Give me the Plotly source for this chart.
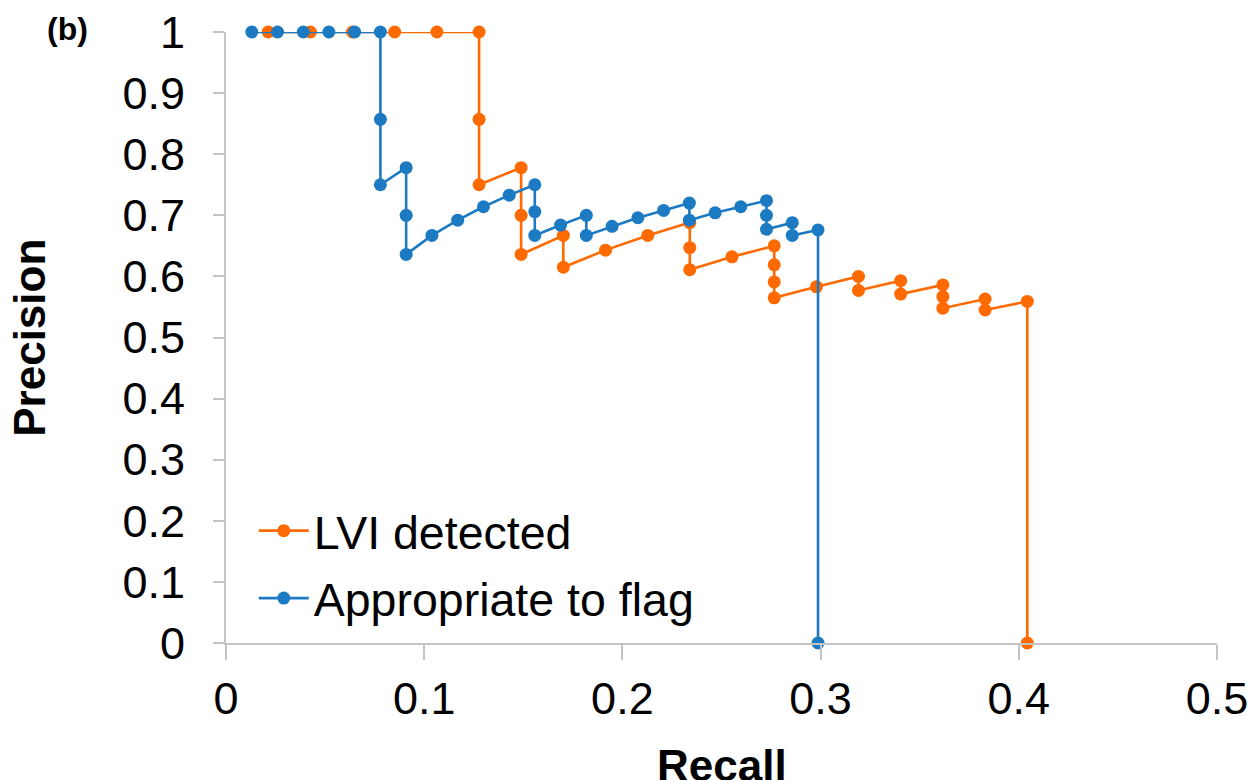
import plotly.graph_objects as go

# ---- data ----
lvi_recall = [0.0213, 0.0426, 0.0638, 0.0851, 0.1064, 0.1277, 0.1277, 0.1277,
              0.1489, 0.1489, 0.1489, 0.1702, 0.1702, 0.1915, 0.2128,
              0.2340, 0.2340, 0.2340, 0.2553, 0.2766, 0.2766, 0.2766, 0.2766,
              0.2979, 0.3191, 0.3191, 0.3404, 0.3404, 0.3617, 0.3617, 0.3617,
              0.3830, 0.3830, 0.4043, 0.4043]
lvi_precision = [1, 1, 1, 1, 1, 1, 0.857, 0.75,
                 0.778, 0.7, 0.636, 0.667, 0.615, 0.643, 0.667,
                 0.688, 0.647, 0.611, 0.632, 0.65, 0.619, 0.591, 0.565,
                 0.583, 0.6, 0.577, 0.593, 0.571, 0.586, 0.567, 0.548,
                 0.563, 0.545, 0.559, 0]

flag_recall = [0.013, 0.026, 0.039, 0.0519, 0.0649, 0.0779, 0.0779, 0.0779,
               0.0909, 0.0909, 0.0909, 0.1039, 0.1169, 0.1299, 0.1429,
               0.1558, 0.1558, 0.1558, 0.1688, 0.1818, 0.1818, 0.1948,
               0.2078, 0.2208, 0.2338, 0.2338, 0.2468, 0.2597,
               0.2727, 0.2727, 0.2727, 0.2857, 0.2857, 0.2987, 0.2987]
flag_precision = [1, 1, 1, 1, 1, 1, 0.857, 0.75,
                  0.778, 0.7, 0.636, 0.667, 0.692, 0.714, 0.733,
                  0.75, 0.706, 0.667, 0.684, 0.7, 0.667, 0.682,
                  0.696, 0.708, 0.72, 0.692, 0.704, 0.714,
                  0.724, 0.7, 0.677, 0.688, 0.667, 0.676, 0]

series_names = ["LVI detected", "Appropriate to flag"]
x_tickvals = [0, 0.1, 0.2, 0.3, 0.4, 0.5]
x_ticktext = ["0", "0.1", "0.2", "0.3", "0.4", "0.5"]
y_tickvals = [0, 0.1, 0.2, 0.3, 0.4, 0.5, 0.6, 0.7, 0.8, 0.9, 1]
y_ticktext = ["0", "0.1", "0.2", "0.3", "0.4", "0.5", "0.6", "0.7", "0.8", "0.9", "1"]

ORANGE = "#FF6A00"
BLUE = "#1C7AC3"
AXIS = "#C4C4C4"
FONT = "Liberation Sans, Arial, Helvetica, sans-serif"

fig = go.Figure()
fig.add_trace(go.Scatter(
    x=lvi_recall, y=lvi_precision, name=series_names[0],
    legendgroup="g1",
    mode="lines+markers", cliponaxis=False,
    line=dict(color=ORANGE, width=2.6),
    marker=dict(color=ORANGE, size=13),
))
fig.add_trace(go.Scatter(
    x=flag_recall, y=flag_precision, name=series_names[1],
    legendgroup="g2",
    mode="lines+markers", cliponaxis=False,
    line=dict(color=BLUE, width=2.6),
    marker=dict(color=BLUE, size=13),
))

fig.update_layout(
    width=1250, height=780,
    margin=dict(l=226, r=33, t=32, b=137, autoexpand=False),
    paper_bgcolor="white", plot_bgcolor="white",
    font=dict(family=FONT, color="black"),
    showlegend=True,
    legend=dict(
        x=0.028, y=0.244, xanchor="left", yanchor="top",
        bgcolor="rgba(0,0,0,0)",
        font=dict(size=46.5, family=FONT, color="black"),
        tracegroupgap=4, itemwidth=50,
    ),
    xaxis=dict(
        range=[0, 0.5], tickvals=x_tickvals, ticktext=x_ticktext,
        showgrid=False, zeroline=False, automargin=False,
        showline=True, linecolor=AXIS, linewidth=2,
        ticks="outside", ticklen=15, tickwidth=2, tickcolor=AXIS,
        tickfont=dict(size=45, family=FONT, color="black"),
        ticklabelstandoff=0, ticklabeloverflow="allow",
    ),
    yaxis=dict(
        range=[0, 1], tickvals=y_tickvals, ticktext=y_ticktext,
        showgrid=False, zeroline=False, automargin=False,
        showline=True, linecolor=AXIS, linewidth=2,
        ticks="outside", ticklen=11, tickwidth=2, tickcolor=AXIS,
        tickfont=dict(size=45, family=FONT, color="black"),
        ticklabelstandoff=19, ticklabeloverflow="allow",
    ),
    annotations=[
        dict(text="<b>Precision</b>", xref="paper", yref="paper",
             x=-0.1985, y=0.5, xanchor="center", yanchor="middle",
             textangle=-90, showarrow=False,
             font=dict(size=44, family=FONT, color="black")),
        dict(text="<b>Recall</b>", xref="paper", yref="paper",
             x=0.5, y=-0.2, xanchor="center", yanchor="middle",
             showarrow=False,
             font=dict(size=44, family=FONT, color="black")),
        dict(text="<b>(b)</b>", xref="paper", yref="paper",
             x=-0.16, y=1.005, xanchor="center", yanchor="middle",
             showarrow=False,
             font=dict(size=32, family=FONT, color="black")),
    ],
)

# remove the browser's default page margin so the figure fills the window exactly
fig.write_html(
    "out.html",
    config={"displayModeBar": False},
    post_script="document.body.style.margin='0';document.body.style.overflow='hidden';",
)
